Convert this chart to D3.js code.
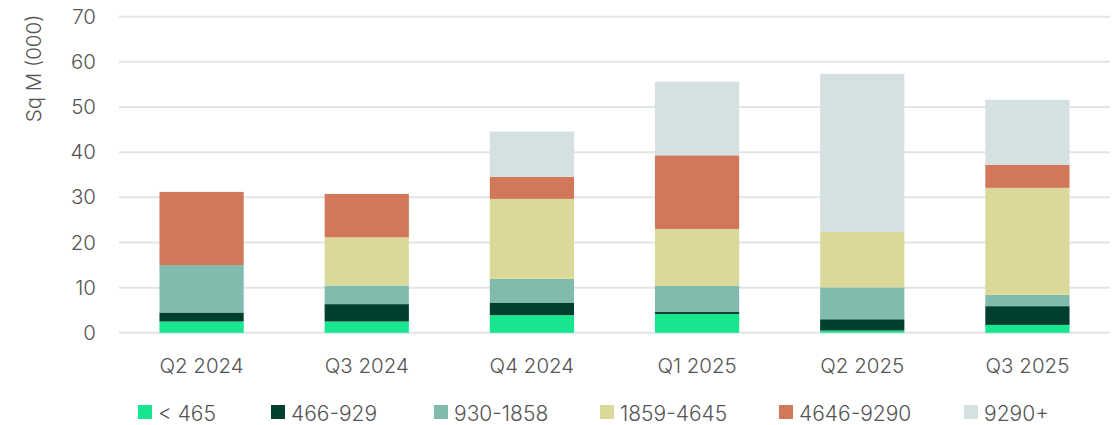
<!DOCTYPE html>
<html><head><meta charset="utf-8">
<script src="https://cdn.jsdelivr.net/npm/d3@7"></script>
<style>
html,body{margin:0;padding:0;background:#fff;}
svg{display:block;font-family:Inter,"Noto Sans",sans-serif;}
svg text{font-weight:300;}
</style></head>
<body><svg id="c" width="1115" height="425"></svg>
<script>
const categories = ["Q2 2024","Q3 2024","Q4 2024","Q1 2025","Q2 2025","Q3 2025"];
const seriesNames = ["< 465","466-929","930-1858","1859-4645","4646-9290","9290+"];
const s_lt465     = [2.5, 2.5, 3.9, 4.15, 0.5, 1.75];
const s_466_929   = [2.0, 3.85, 2.8, 0.45, 2.5, 4.15];
const s_930_1858  = [10.5, 4.1, 5.25, 5.8, 7.05, 2.5];
const s_1859_4645 = [0, 10.7, 17.7, 12.6, 12.3, 23.7];
const s_4646_9290 = [16.2, 9.6, 4.9, 16.3, 0, 5.1];
const s_9290plus  = [0, 0, 10.0, 16.3, 35.0, 14.4];
const yTicks = [0,10,20,30,40,50,60,70];
const colors = ["#17e68f","#003f2d","#80bbad","#dbd99a","#d2785a","#d5e0e1"];

const seriesValues = [s_lt465,s_466_929,s_930_1858,s_1859_4645,s_4646_9290,s_9290plus];
const rows = categories.map((c,i)=>{const r={cat:c}; seriesNames.forEach((s,j)=>r[s]=seriesValues[j][i]); return r;});

(function(){
const svg = d3.select("#c");
const pl=119, pr=1110, pt=16.7, pb=332.8;
const x = d3.scaleBand().domain(categories).range([pl,pr]).paddingInner(0.49).paddingOuter(0.245);
const y = d3.scaleLinear().domain([0,70]).range([pb,pt]);
const textColor="#555555";
const fs=20.5;

// grid
svg.append("g").selectAll("line").data(yTicks).join("line")
  .attr("x1",pl).attr("x2",pr).attr("y1",d=>y(d)).attr("y2",d=>y(d))
  .attr("stroke","#e1e5e5").attr("stroke-width",2);

// y axis labels
const yAxis = d3.axisLeft(y).tickValues(yTicks).tickSize(0).tickPadding(0);
const gy = svg.append("g").attr("transform",`translate(96,0)`).call(yAxis);
gy.select(".domain").remove();
gy.selectAll("text").attr("font-size",fs).attr("fill",textColor).attr("font-family","Inter,sans-serif");

// y title
svg.append("text").attr("transform","translate(41,68.5) rotate(-90)")
  .attr("text-anchor","middle").attr("font-size",fs).attr("fill",textColor).text("Sq M (000)");

// bars
const stack = d3.stack().keys(seriesNames)(rows);
svg.append("g").selectAll("g").data(stack).join("g")
  .attr("fill",(d,i)=>colors[i])
  .selectAll("rect").data(d=>d).join("rect")
  .attr("x",d=>x(d.data.cat)).attr("width",x.bandwidth())
  .attr("y",d=>y(d[1])).attr("height",d=>Math.max(0,y(d[0])-y(d[1])));

// x axis labels
const xAxis = d3.axisBottom(x).tickSize(0).tickPadding(0);
const gx = svg.append("g").attr("transform",`translate(0,373)`).call(xAxis);
gx.select(".domain").remove();
gx.selectAll("text").attr("font-size",fs).attr("fill",textColor).attr("font-family","Inter,sans-serif").attr("dy","0");

// legend
const legendX = [138,271,434,600,779,964];
const lg = svg.append("g");
seriesNames.forEach((s,i)=>{
  lg.append("rect").attr("x",legendX[i]).attr("y",405).attr("width",14).attr("height",14).attr("fill",colors[i]);
  lg.append("text").attr("x",legendX[i]+20).attr("y",421).attr("font-size",21).attr("fill",textColor).text(s);
});
})();
</script></body></html>
